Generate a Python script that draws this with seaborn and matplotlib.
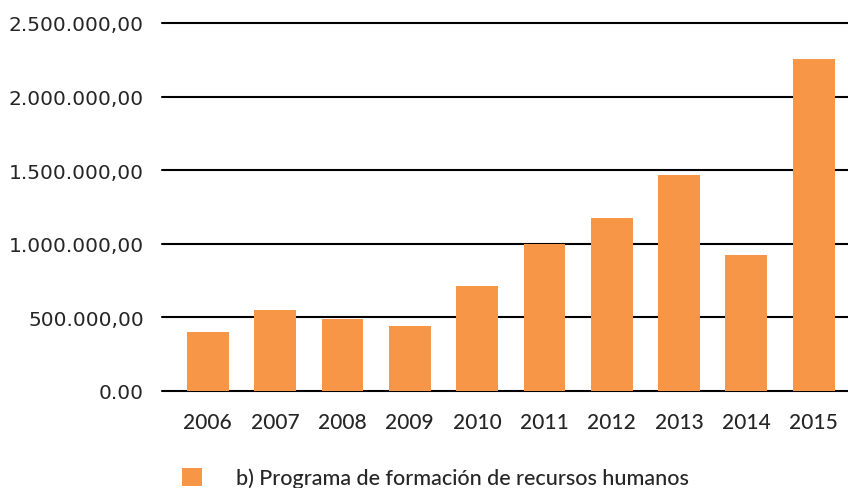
import matplotlib
matplotlib.use("Agg")
import matplotlib.pyplot as plt
import seaborn as sns
import pandas as pd

years = ["2006", "2007", "2008", "2009", "2010", "2011", "2012", "2013", "2014", "2015"]
values = [403000, 550000, 490000, 442000, 713000, 1000000, 1175000, 1467000, 924000, 2255000]
serie = "b) Programa de formación de recursos humanos"
ytick_vals = [0, 500000, 1000000, 1500000, 2000000, 2500000]
ytick_labels = ["0.00", "500.000,00", "1.000.000,00", "1.500.000,00", "2.000.000,00", "2.500.000,00"]

df = pd.DataFrame({"year": years, "value": values, "serie": serie})

sns.set_style("white")
plt.rcParams["font.family"] = ["DejaVu Sans"]

fig = plt.figure(figsize=(8.48, 4.89), dpi=100)
ax = fig.add_axes([162 / 848, 97 / 489, 1 - 162 / 848, (392 - 24) / 489])

sns.barplot(data=df, x="year", y="value", hue="serie", palette=["#F79646"],
            width=0.62, saturation=1, linewidth=0, ax=ax, zorder=3)

ax.set_ylim(0, 2500000)
ax.set_xlim(-0.68, 9.51)
ax.set_yticks(ytick_vals)
ax.set_yticklabels(ytick_labels, fontsize=14.5)
for v in ytick_vals:
    ax.axhline(v, color="black", lw=1.5, zorder=1, clip_on=False)
ax.set_xlabel("")
ax.set_ylabel("")
for s in ax.spines.values():
    s.set_visible(False)
ax.tick_params(axis="y", length=0, pad=13)
ax.tick_params(axis="x", length=0, pad=15)
for lab in ax.get_xticklabels():
    lab.set_fontfamily("Lato")
    lab.set_fontweight("medium")
    lab.set_fontsize(15)

ax.get_legend().remove()
handles, labels = ax.get_legend_handles_labels()
fig.legend(handles, labels, loc="center left", bbox_to_anchor=(182 / 848, 10 / 489),
           frameon=False, borderpad=0, borderaxespad=0, handlelength=0.95, handleheight=0.95,
           handletextpad=1.55, prop={"family": "Lato", "weight": "medium", "size": 15.5})

fig.savefig("out.png", dpi=100)
